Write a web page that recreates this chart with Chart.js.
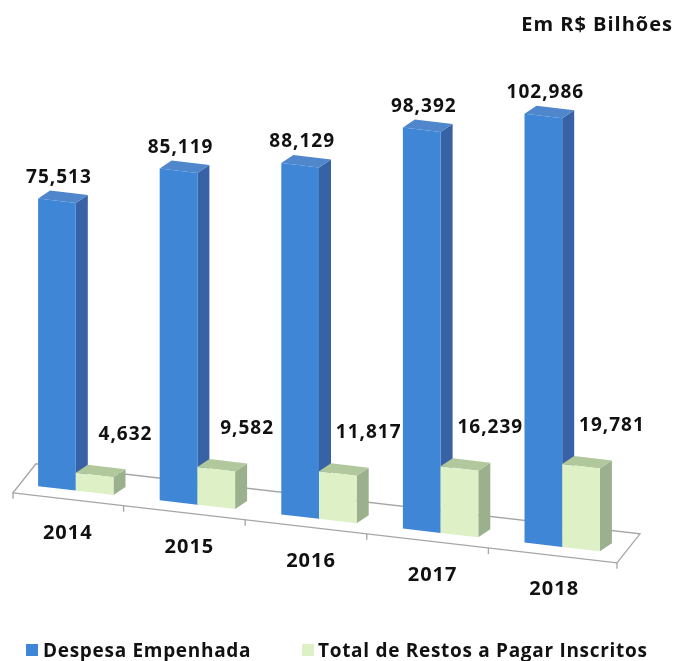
<!DOCTYPE html>
<html lang="pt-BR">
<head>
<meta charset="utf-8">
<title>Despesa Empenhada e Restos a Pagar Inscritos</title>
<script src="https://cdn.jsdelivr.net/npm/chart.js@4.4.1/dist/chart.umd.min.js"></script>
<style>
  html, body { margin: 0; padding: 0; background: #fff; }
  #wrap { width: 675px; height: 661px; }
</style>
</head>
<body>
<div id="wrap"><canvas id="chart" width="675" height="661"></canvas></div>
<script>
const years = ["2014", "2015", "2016", "2017", "2018"];
const committed = [75.513, 85.119, 88.129, 98.392, 102.986];
const carryover = [4.632, 9.582, 11.817, 16.239, 19.781];
const seriesNames = ["Despesa Empenhada", "Total de Restos a Pagar Inscritos"];
const unitNote = "Em R$ Bilhões";

const faces = [
  { front: "#3f87d6", side: "#3862a6", top: "#4f86cc" },
  { front: "#ddf0c6", side: "#9bb08c", top: "#b1c89c" },
];

// Oblique 3D look: the zero line drops to the right and bars get a bit taller toward the viewer.
const view = {
  x0: 45, y0: 487,       // where the zero line sits at x0
  drop: 0.116,           // zero line slope
  k0: 3.80,              // px per billion at x0
  kGrow: 0.00073,        // extra px per billion for every px to the right
  depth: { dx: 12, dy: -8 },
};
const baseAt = (x) => view.y0 + view.drop * (x - view.x0);
const kAt = (x) => view.k0 + view.kGrow * (x - view.x0);
const fmt = (v) => v.toFixed(3).replace(".", ",");
const FONT = "'Open Sans', 'DejaVu Sans', sans-serif";

function setFont(ctx, size, spacing = 1) {
  ctx.font = `bold ${size}px ${FONT}`;
  ctx.letterSpacing = `${spacing}px`;
  ctx.fillStyle = "#111";
}

// front face of a bar mapped into the oblique view
function barGeometry(chart, bar) {
  const { x, y, base, width } = bar.getProps(["x", "y", "base", "width"], true);
  const ys = chart.scales.y;
  const u = ys.getPixelForValue(0) - ys.getPixelForValue(1);
  const s = kAt(x) / u;
  const f = baseAt(x) - view.drop * x - s * base;
  const left = x - width / 2, right = x + width / 2;
  const py = (px, yy) => s * yy + view.drop * px + f;
  return { x, s, f, left, right, topL: py(left, y), topR: py(right, y), botL: py(left, base), botR: py(right, base) };
}

function drawBar3D(chart, bar, look) {
  const ctx = chart.ctx;
  const { dx, dy } = view.depth;
  const g = barGeometry(chart, bar);
  ctx.fillStyle = look.side;
  ctx.beginPath();
  ctx.moveTo(g.right, g.topR); ctx.lineTo(g.right + dx, g.topR + dy);
  ctx.lineTo(g.right + dx, g.botR + dy); ctx.lineTo(g.right, g.botR);
  ctx.closePath(); ctx.fill();
  ctx.fillStyle = look.top;
  ctx.beginPath();
  ctx.moveTo(g.left, g.topL); ctx.lineTo(g.left + dx, g.topL + dy);
  ctx.lineTo(g.right + dx, g.topR + dy); ctx.lineTo(g.right, g.topR);
  ctx.closePath(); ctx.fill();
  // the library's own bar, seen through the view transform
  ctx.save();
  ctx.transform(1, view.drop, 0, g.s, 0, g.f);
  bar.draw(ctx);
  ctx.restore();
}

const obliqueBars = {
  id: "obliqueBars",
  beforeDatasetsDraw(chart) {
    const ctx = chart.ctx;
    // floor
    const { left: L, right: R } = chart.chartArea;
    const front = (xb) => [xb - 13, baseAt(xb) + 8];
    const back = (p) => [p[0] + 23, p[1] - 29];
    const fl = front(L + 11), fr = front(R + 7);
    const bl = back(fl), br = back(fr);
    ctx.save();
    ctx.strokeStyle = "#a5a5a5";
    ctx.lineWidth = 1.3;
    ctx.beginPath();
    ctx.moveTo(...fl); ctx.lineTo(...fr); ctx.lineTo(...br); ctx.lineTo(...bl); ctx.closePath();
    ctx.stroke();
    const xs = chart.scales.x;
    const ticks = [fl, fr];
    for (let i = 0; i < years.length - 1; i++) {
      ticks.push(front((xs.getPixelForValue(i) + xs.getPixelForValue(i + 1)) / 2));
    }
    ctx.beginPath();
    ticks.forEach(([tx, ty]) => { ctx.moveTo(tx, ty); ctx.lineTo(tx, ty + 6); });
    ctx.stroke();
    ctx.restore();
    // bars, left to right, blue before green so the green front covers the blue side
    ctx.save();
    years.forEach((_, i) => {
      chart.data.datasets.forEach((ds, di) => {
        drawBar3D(chart, chart.getDatasetMeta(di).data[i], faces[di]);
      });
    });
    ctx.restore();
  },
  beforeDatasetDraw() {
    return false; // already drawn above
  },
  afterDatasetsDraw(chart) {
    const ctx = chart.ctx;
    ctx.save();
    ctx.textAlign = "center";
    ctx.textBaseline = "alphabetic";
    // value labels
    setFont(ctx, 19);
    chart.data.datasets.forEach((ds, di) => {
      chart.getDatasetMeta(di).data.forEach((bar, i) => {
        const g = barGeometry(chart, bar);
        if (di === 0) ctx.fillText(fmt(ds.data[i]), (g.left + g.right) / 2 + 2, g.topL - 16);
        else ctx.fillText(fmt(ds.data[i]), g.right + 12, g.topL - 33);
      });
    });
    // year labels along the floor
    setFont(ctx, 20);
    const xs = chart.scales.x;
    years.forEach((y, i) => {
      const cx = xs.getPixelForValue(i);
      ctx.fillText(y, cx - 8, baseAt(cx) + 48);
    });
    ctx.restore();
  },
  afterDraw(chart) {
    const ctx = chart.ctx;
    ctx.save();
    ctx.textBaseline = "alphabetic";
    setFont(ctx, 20);
    ctx.textAlign = "right";
    ctx.fillText(unitNote, 673, 31);
    // legend
    ctx.textAlign = "left";
    const items = [{ box: 26, text: 43 }, { box: 302, text: 318 }];
    items.forEach((it, i) => {
      ctx.fillStyle = faces[i].front;
      ctx.fillRect(it.box, 644, 12, 12);
      setFont(ctx, 19, 0.7);
      ctx.fillText(chart.data.datasets[i].label, it.text, 657);
    });
    ctx.restore();
  },
};

new Chart(document.getElementById("chart"), {
  type: "bar",
  data: {
    labels: years,
    datasets: [
      { label: seriesNames[0], data: committed, backgroundColor: faces[0].front },
      { label: seriesNames[1], data: carryover, backgroundColor: faces[1].front },
    ],
  },
  options: {
    responsive: false,
    animation: false,
    events: [],
    layout: { padding: { left: 15, right: 52, top: 60, bottom: 170 } },
    datasets: { bar: { categoryPercentage: 0.62, barPercentage: 1, borderWidth: 0 } },
    plugins: { legend: { display: false }, title: { display: false }, tooltip: { enabled: false } },
    scales: {
      x: { display: false, offset: true },
      y: { display: false, min: 0, max: 110 },
    },
  },
  plugins: [obliqueBars],
});
</script>
</body>
</html>
